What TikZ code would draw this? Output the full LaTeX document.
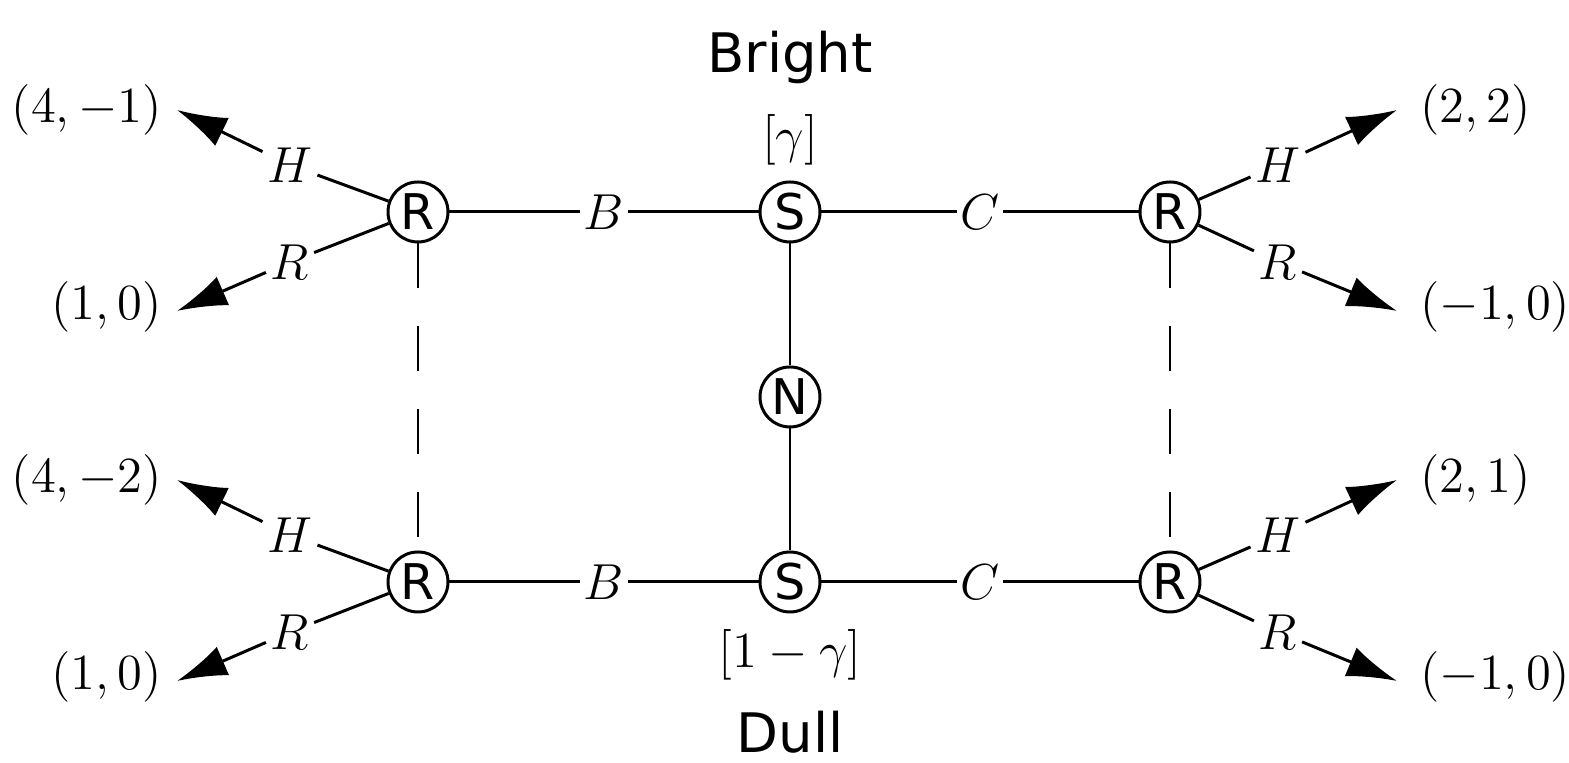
\documentclass[tikz,border=0pt]{standalone}
\usepackage{amsmath, amssymb}
\usepackage{fontspec}
\newfontfamily\lucida{DejaVu Sans}
\usepackage{tikz}
\usetikzlibrary{arrows.meta, positioning}

\begin{document}
\begin{tikzpicture}[>={Latex[length=5mm,width=3.1mm]}, line width=0.85pt,
    font=\fontsize{14.5}{17}\selectfont,
    dec/.style={circle, draw, minimum size=6mm, inner sep=0pt, font=\lucida\fontsize{14}{16}\selectfont},
    act/.style={inner sep=1pt},
    pay/.style={inner sep=4pt, font=\fontsize{13.5}{16}\selectfont},
    tag/.style={anchor=base, font=\lucida\fontsize{15.5}{18}\selectfont}]
    \useasboundingbox (0,0) rectangle (15.69,7.63);

    % Các nút
    \node[dec] (rl1) at (4.18,5.51) {R};
    \node[dec] (rl2) at (4.18,1.81) {R};
    \node[dec] (s1) at (7.90,5.51) {S};
    \node[dec] (n) at (7.90,3.66) {N};
    \node[dec] (s2) at (7.90,1.81) {S};
    \node[dec] (rr1) at (11.70,5.51) {R};
    \node[dec] (rr2) at (11.70,1.81) {R};

    % Nhãn trạng thái
    \node[tag] (bright) at (7.90,6.90) {Bright};
    \node (gam) at (7.90,6.23) {$[\gamma]$};
    \node (ngam) at (7.90,1.08) {$[1-\gamma]$};
    \node[tag] (dull) at (7.90,0.10) {Dull};

    % Các cạnh giữa
    \draw (rl1) -- node[act, fill=white] (b1) {$B$} (s1) -- node[act, fill=white] (c1) {$C$} (rr1);
    \draw (rl2) -- node[act, fill=white] (b2) {$B$} (s2) -- node[act, fill=white] (c2) {$C$} (rr2);
    \draw (s1) -- (n) -- (s2);
    \draw[dash pattern=on 4.5mm off 3.8mm] (rl1) -- (rl2);
    \draw[dash pattern=on 4.5mm off 3.8mm] (rr1) -- (rr2);

    % Các nhánh H, R và kết quả
    \foreach \r/\lx/\tx/\a/\g/\ph/\pr in {
        rl1/-1.28/-2.41/east/0/{(4,-1)}/{(1,0)},
        rl2/-1.28/-2.41/east/0/{(4,-2)}/{(1,0)},
        rr1/1.08/2.27/west/0.08/{(2,2)}/{(-1,0)},
        rr2/1.08/2.27/west/0.08/{(2,1)}/{(-1,0)}} {
        \path (\r) ++(\lx,0.47) node[act] (\r h) {$H$};
        \path (\r) ++(\lx,-0.50) node[act] (\r r) {$R$};
        \path (\r) ++(\tx,1.02) coordinate (\r th);
        \path (\r) ++(\tx,-0.99) coordinate (\r tr);
        \draw (\r) -- (\r h);
        \draw[->] (\r h) -- (\r th);
        \draw (\r) -- (\r r);
        \draw[->] (\r r) -- (\r tr);
        \node[pay, anchor=\a, xshift=\g cm] (\r ph) at (\r th) {$\ph$};
        \node[pay, anchor=\a, xshift=\g cm, yshift=0.4mm] (\r pr) at (\r tr) {$\pr$};
    }
\end{tikzpicture}
\end{document}
